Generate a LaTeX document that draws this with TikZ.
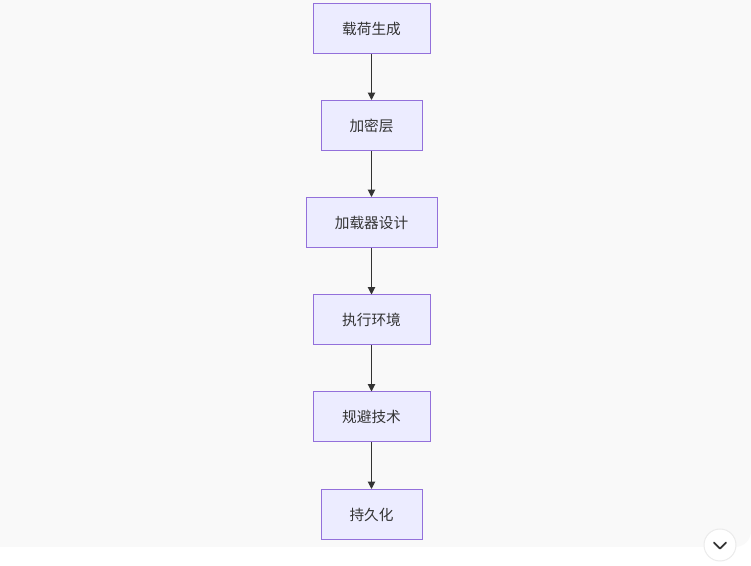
\documentclass[tikz,border=0pt]{standalone}
\usepackage{fontspec}
\setmainfont{Noto Sans CJK SC}
\usetikzlibrary{arrows.meta}
\definecolor{boxfill}{HTML}{ECECFF}
\definecolor{boxline}{HTML}{9370DB}
\definecolor{ink}{HTML}{333333}
\definecolor{bg}{HTML}{F9F9F9}
\begin{document}
\begin{tikzpicture}[x=0.75pt,y=-0.75pt,
  stepbox/.style={draw=boxline,fill=boxfill,line width=0.75pt,inner sep=0pt,
    text=ink,font=\fontsize{11pt}{13pt}\selectfont,minimum height=37.5pt},
  link/.style={draw=ink,line width=0.75pt,-{Triangle[length=5.5pt,width=5.5pt]}}]
\useasboundingbox (0,0) rectangle (751,566);
\fill[white] (0,0) rectangle (751,566);
\fill[bg,rounded corners=12pt] (-20,-20) rectangle (751,547);
\node[stepbox,minimum width=87.75pt] (a) at (371.5,28.5) {载荷生成};
\node[stepbox,minimum width=75.75pt] (b) at (371.5,125.5) {加密层};
\node[stepbox,minimum width=98.25pt] (c) at (371.5,222.5) {加载器设计};
\node[stepbox,minimum width=87.75pt] (d) at (371.5,320) {执行环境};
\node[stepbox,minimum width=87.75pt] (e) at (371.5,417) {规避技术};
\node[stepbox,minimum width=75.75pt] (f) at (371.5,514.5) {持久化};
\draw[link] (a) -- (b);
\draw[link] (b) -- (c);
\draw[link] (c) -- (d);
\draw[link] (d) -- (e);
\draw[link] (e) -- (f);
\node[circle,draw=black!8,fill=white,line width=0.75pt,minimum size=24pt,inner sep=0pt] (btn) at (720,545) {};
\draw[ink,line width=1.3pt,line cap=round,line join=round] ([xshift=-4.5pt,yshift=1.8pt]btn.center) -- ([yshift=-2.7pt]btn.center) -- ([xshift=4.5pt,yshift=1.8pt]btn.center);
\end{tikzpicture}
\end{document}
